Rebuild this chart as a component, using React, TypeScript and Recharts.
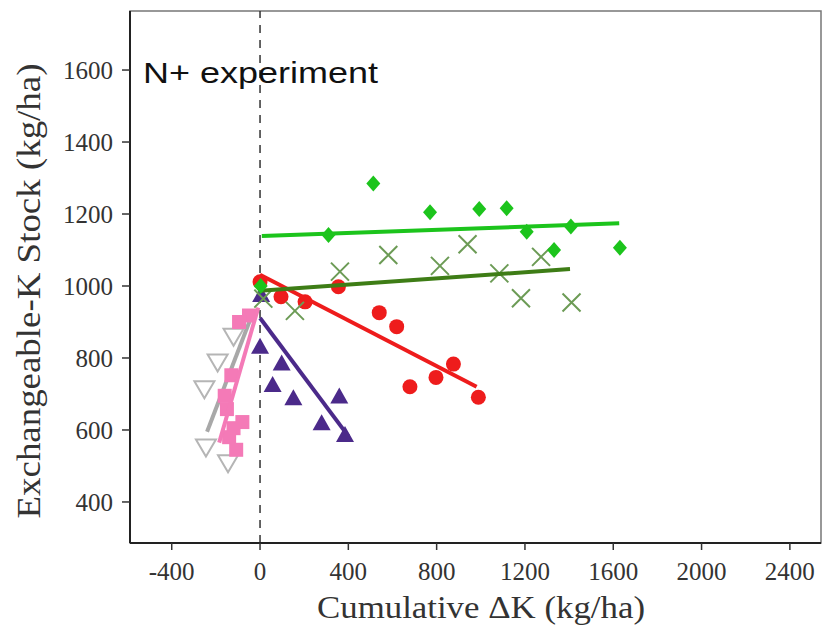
import {
  ScatterChart,
  Scatter,
  XAxis,
  YAxis,
  ReferenceLine,
  ReferenceArea,
} from "recharts";

// axis setup
const X_DOMAIN: [number, number] = [-589, 2541];
const Y_DOMAIN: [number, number] = [286, 1764];
const xTicks = [-400, 0, 400, 800, 1200, 1600, 2000, 2400];
const yTicks = [400, 600, 800, 1000, 1200, 1400, 1600];

// bright green diamonds
const diamondX = [3, 310, 513, 770, 993, 1117, 1208, 1332, 1408, 1630];
const diamondY = [1000, 1142, 1285, 1205, 1214, 1216, 1151, 1100, 1165, 1106];
const diamondFitX = [8, 1627];
const diamondFitY = [1139, 1174];

// dark green crosses
const crossX = [15, 158, 362, 581, 815, 940, 1084, 1182, 1273, 1411];
const crossY = [965, 931, 1040, 1086, 1056, 1116, 1035, 966, 1081, 954];
const crossFitX = [0, 1404];
const crossFitY = [987, 1047];

// red circles
const circleX = [0, 95, 204, 355, 540, 619, 679, 797, 876, 989];
const circleY = [1012, 970, 956, 998, 926, 887, 720, 746, 783, 691];
const circleFitX = [0, 981];
const circleFitY = [1031, 720];

// purple triangles
const triX = [5, 0, 98, 57, 151, 359, 279, 385];
const triY = [975, 831, 785, 725, 688, 693, 619, 586];
const triFitX = [0, 400];
const triFitY = [911, 583];

// pink squares
const squareX = [-50, -95, -130, -160, -150, -80, -120, -140, -108];
const squareY = [918, 900, 752, 695, 658, 622, 605, 580, 545];
const squareFitX = [-185, -8];
const squareFitY = [565, 940];

// grey open triangles
const openTriX = [-120, -192, -252, -245, -145];
const openTriY = [862, 790, 716, 554, 510];
const openTriFitX = [-240, -30];
const openTriFitY = [595, 930];

const RED = "#ee1c1c";
const PURPLE = "#4b2a8a";
const GREEN = "#1cc41c";
const DARK_GREEN = "#3e7d16";
const CROSS = "#6c9b55";
const PINK = "#f47ab7";
const GREY = "#a8a8a8";

const pts = (xs: number[], ys: number[]) => xs.map((x, i) => ({ x, y: ys[i] }));

const Nothing = () => <g />;

const Diamond = ({ cx, cy }: any) => (
  <path d={`M${cx},${cy - 8}L${cx + 7},${cy}L${cx},${cy + 8}L${cx - 7},${cy}Z`} fill={GREEN} />
);
const Circle = ({ cx, cy }: any) => <circle cx={cx} cy={cy} r={7.5} fill={RED} />;
const Triangle = ({ cx, cy }: any) => (
  <path d={`M${cx},${cy - 9}L${cx + 9},${cy + 7}L${cx - 9},${cy + 7}Z`} fill={PURPLE} />
);
const Square = ({ cx, cy }: any) => (
  <rect x={cx - 7} y={cy - 7} width={14} height={14} fill={PINK} />
);
const Cross = ({ cx, cy }: any) => (
  <path
    d={`M${cx - 9},${cy - 9}L${cx + 9},${cy + 9}M${cx - 9},${cy + 9}L${cx + 9},${cy - 9}`}
    stroke={CROSS}
    strokeWidth={2}
    fill="none"
  />
);
const OpenTri = ({ cx, cy }: any) => (
  <path
    d={`M${cx - 10},${cy - 7}L${cx + 10},${cy - 7}L${cx},${cy + 10}Z`}
    stroke="#b5b5b5"
    strokeWidth={2}
    fill="none"
  />
);

const tickStyle = { fill: "#333", fontSize: 25, fontFamily: "Liberation Serif" };

export default function App() {
  return (
    <div style={{ position: "absolute", left: 0, top: 0, width: 827, height: 627, background: "#fff" }}>
      <ScatterChart width={827} height={627} margin={{ top: 11, right: 6, bottom: 34, left: 60 }}>
        <XAxis
          type="number"
          dataKey="x"
          domain={X_DOMAIN}
          ticks={xTicks}
          allowDataOverflow
          height={50}
          tick={tickStyle}
          tickSize={7}
          tickMargin={12}
          tickLine={{ stroke: "#333", strokeWidth: 1.5 }}
          axisLine={{ stroke: "#222", strokeWidth: 2 }}
        />
        <YAxis
          type="number"
          dataKey="y"
          domain={Y_DOMAIN}
          ticks={yTicks}
          allowDataOverflow
          width={70}
          tick={tickStyle}
          tickSize={8}
          tickMargin={9}
          tickLine={{ stroke: "#333", strokeWidth: 1.5 }}
          axisLine={{ stroke: "#222", strokeWidth: 2 }}
        />
        <ReferenceArea
          x1={X_DOMAIN[0]}
          x2={X_DOMAIN[1]}
          y1={Y_DOMAIN[0]}
          y2={Y_DOMAIN[1]}
          fill="none"
          stroke="#777"
          strokeWidth={1.5}
        />
        <ReferenceLine x={0} stroke="#333" strokeWidth={1.5} strokeDasharray="8 7" />

        <Scatter data={pts(openTriX, openTriY)} shape={OpenTri} isAnimationActive={false} />
        <Scatter data={pts(openTriFitX, openTriFitY)} line={{ stroke: GREY, strokeWidth: 4 }} shape={Nothing} isAnimationActive={false} />
        <Scatter data={pts(squareX, squareY)} shape={Square} isAnimationActive={false} />
        <Scatter data={pts(squareFitX, squareFitY)} line={{ stroke: PINK, strokeWidth: 4 }} shape={Nothing} isAnimationActive={false} />
        <Scatter data={pts(triX, triY)} shape={Triangle} isAnimationActive={false} />
        <Scatter data={pts(triFitX, triFitY)} line={{ stroke: PURPLE, strokeWidth: 4 }} shape={Nothing} isAnimationActive={false} />
        <Scatter data={pts(circleX, circleY)} shape={Circle} isAnimationActive={false} />
        <Scatter data={pts(circleFitX, circleFitY)} line={{ stroke: RED, strokeWidth: 4 }} shape={Nothing} isAnimationActive={false} />
        <Scatter data={pts(crossX, crossY)} shape={Cross} isAnimationActive={false} />
        <Scatter data={pts(crossFitX, crossFitY)} line={{ stroke: DARK_GREEN, strokeWidth: 4 }} shape={Nothing} isAnimationActive={false} />
        <Scatter data={pts(diamondX, diamondY)} shape={Diamond} isAnimationActive={false} />
        <Scatter data={pts(diamondFitX, diamondFitY)} line={{ stroke: GREEN, strokeWidth: 4 }} shape={Nothing} isAnimationActive={false} />
      </ScatterChart>

      {/* titles */}
      <svg width={827} height={627} style={{ position: "absolute", left: 0, top: 0, pointerEvents: "none" }}>
        <text x={143} y={83} fontFamily="Liberation Sans" fontSize={30} fill="#111" textLength={235} lengthAdjust="spacingAndGlyphs">
          N+ experiment
        </text>
        <text x={481} y={618} textAnchor="middle" fontFamily="Liberation Serif" fontSize={32} fill="#333" textLength={328} lengthAdjust="spacingAndGlyphs">
          Cumulative ΔK (kg/ha)
        </text>
        <text
          x={0}
          y={0}
          transform="translate(40,291) rotate(-90)"
          textAnchor="middle"
          fontFamily="Liberation Serif"
          fontSize={33}
          fill="#333"
          textLength={455}
          lengthAdjust="spacingAndGlyphs"
        >
          Exchangeable-K Stock (kg/ha)
        </text>
      </svg>
    </div>
  );
}
